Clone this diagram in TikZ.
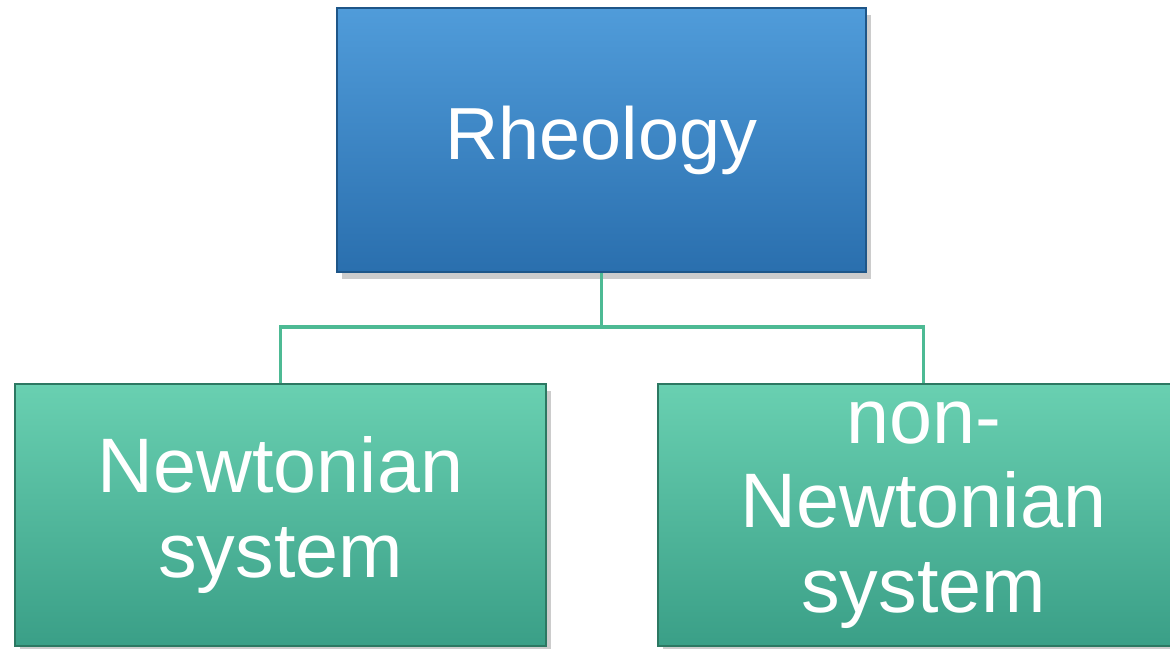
\documentclass[tikz,border=0pt]{standalone}
\usepackage{fontspec}
\setmainfont{Liberation Sans}
\usetikzlibrary{positioning, shadows}

\definecolor{rheotop}{HTML}{509CDA}
\definecolor{rheobot}{HTML}{2A6FAE}
\definecolor{rheoedge}{HTML}{1E5688}
\definecolor{systop}{HTML}{69D0B1}
\definecolor{sysbot}{HTML}{3A9F87}
\definecolor{sysedge}{HTML}{2C7862}
\definecolor{linkgreen}{HTML}{4DBA94}

\tikzset{
  rootbox/.style={draw=rheoedge, line width=1.2pt, top color=rheotop, bottom color=rheobot,
    minimum width=10.58cm, minimum height=5.28cm, inner sep=0pt, text=white,
    font=\fontsize{42}{48}\selectfont, drop shadow={opacity=0.4, shadow xshift=0.1cm, shadow yshift=-0.14cm}},
  leafbox/.style={draw=sysedge, line width=1.2pt, top color=systop, bottom color=sysbot,
    minimum width=10.62cm, minimum height=5.24cm, inner sep=0pt, text=white, align=center,
    font=\fontsize{44}{48}\selectfont, drop shadow={opacity=0.4, shadow xshift=0.1cm, shadow yshift=-0.14cm}},
  link/.style={draw=linkgreen, line width=2.2pt}
}

\begin{document}
\begin{tikzpicture}[x=0.02cm, y=-0.02cm]
    \useasboundingbox (0,0) rectangle (1170,649);

    \node[rootbox] (rheo) at (601.5, 140) {Rheology};

    \node[leafbox] (newt) at (280.5, 515) {Newtonian\\system};
    \node[leafbox] (nonnewt) at (923.5, 515) {non-\\Newtonian\\system};

    % fork of the connector under the root box
    \coordinate (fork) at (601.5, 327);
    \draw[link] (rheo.south) -- (fork);
    \draw[link] (newt.north) |- (fork) -| (nonnewt.north);

\end{tikzpicture}
\end{document}
